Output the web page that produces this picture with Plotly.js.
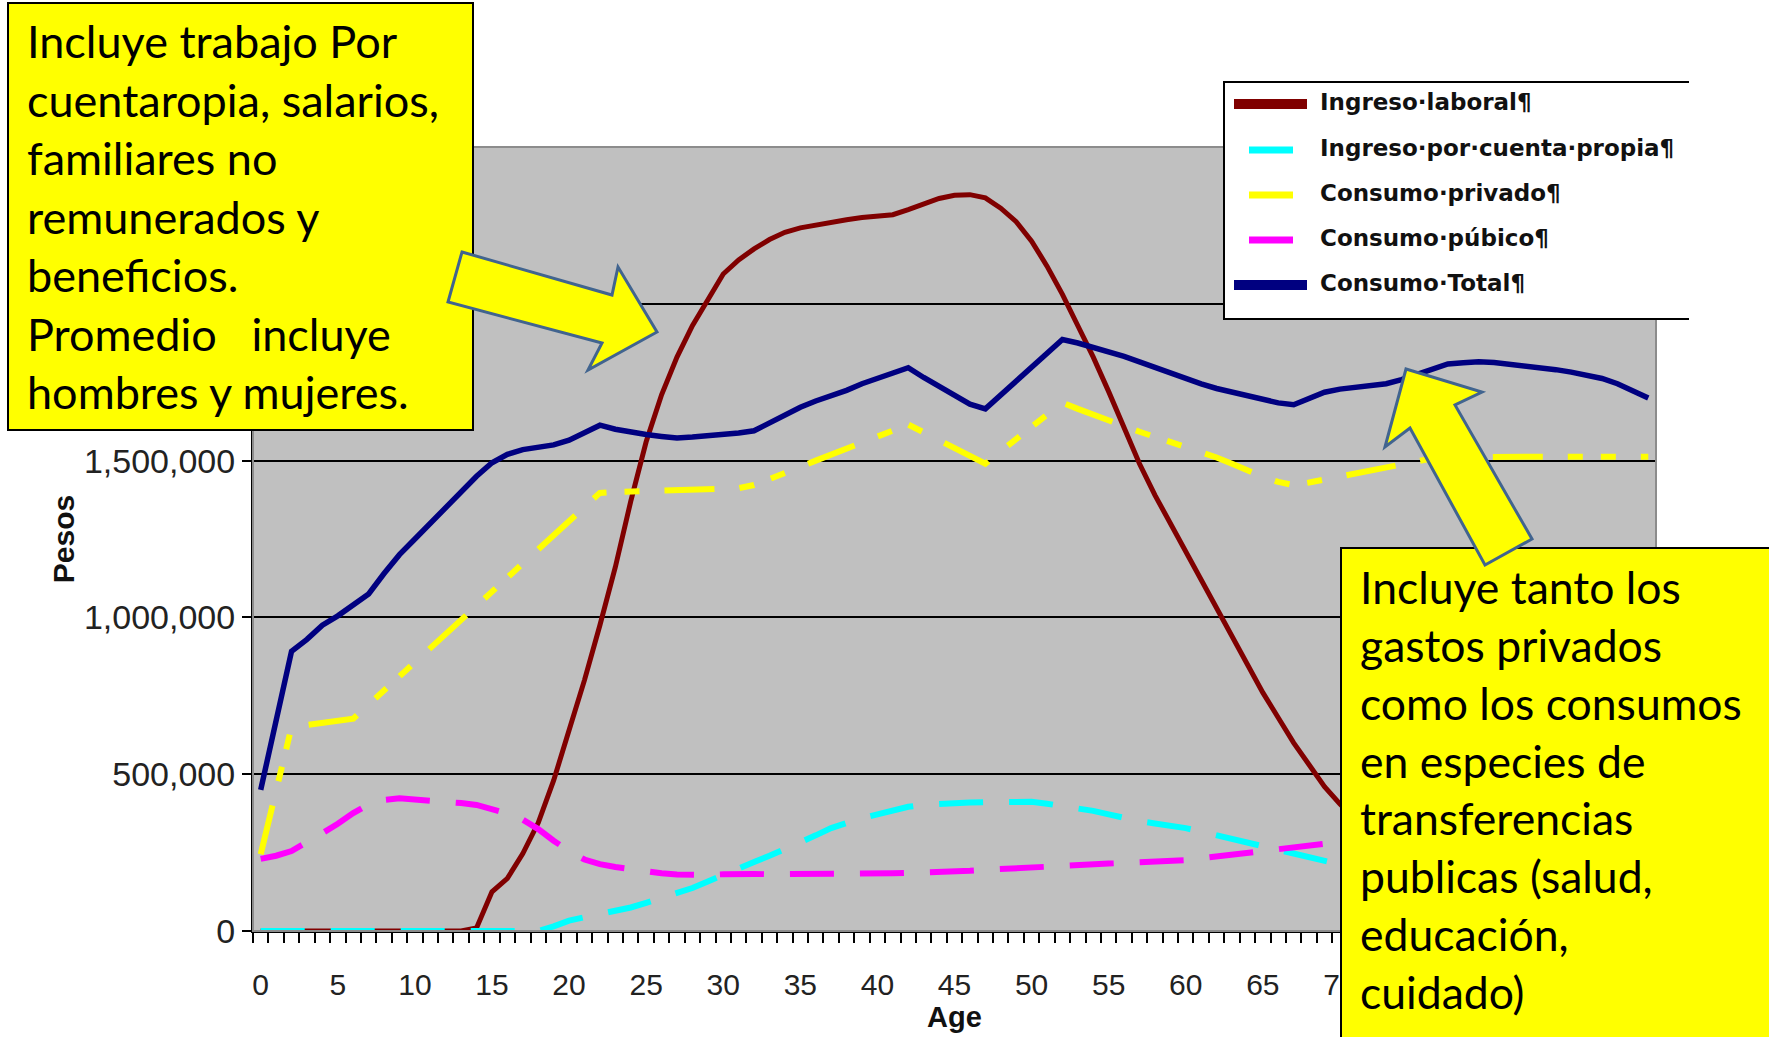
<!DOCTYPE html>
<html>
<head>
<meta charset="utf-8">
<script src="https://cdn.plot.ly/plotly-3.0.1.min.js"></script>
<style>
  html, body { margin: 0; padding: 0; background: #ffffff; }
  #chart { width: 1769px; height: 1037px; }
</style>
</head>
<body>
<div id="chart"></div>
<script>
// ---------------- DATA ----------------
const ages = [0,1,2,3,4,5,6,7,8,9,10,11,12,13,14,15,16,17,18,19,20,21,22,23,24,25,26,27,28,29,30,
  31,32,33,34,35,36,37,38,39,40,41,42,43,44,45,46,47,48,49,50,51,52,53,54,55,56,57,58,59,60,
  61,62,63,64,65,66,67,68,69,70,71,72,73,74,75,76,77,78,79,80,81,82,83,84,85,86,87,88,89,90];

const ingresoLaboral = [0,0,0,0,0,0,0,0,0,0,0,0,0,0,
  10000,125000,168000,247000,345000,480000,640000,800000,975000,1160000,1370000,
  1560000,1710000,1830000,1930000,2010000,2095000,2140000,2175000,2205000,2228000,
  2242000,2252000,2260000,2268000,2275000,2280000,2284000,2300000,2320000,2336000,
  2346000,2348000,2338000,2305000,2262000,2200000,2120000,2030000,1930000,1830000,
  1720000,1600000,1490000,1390000,1300000,1210000,1120000,1030000,940000,850000,
  760000,680000,600000,530000,460000,405000,355000,310000,270000,235000,
  205000,180000,158000,140000,124000,110000,98000,88000,79000,71000,
  64000,58000,53000,48000,44000,40000];

const ingresoCuentaPropia = [0,0,0,0,0,0,0,0,0,0,0,0,0,0,0,0,0,0,0,
  15000,33000,44000,53000,62000,75000,90000,105000,120000,137000,158000,
  180000,200000,220000,240000,260000,280000,305000,328000,345000,360000,
  372000,385000,396000,402000,406000,408000,410000,411000,412000,413000,
  412000,406000,399000,392000,383000,372000,360000,350000,343000,337000,
  328000,317000,305000,293000,282000,270000,258000,246000,234000,222000,
  210000,198000,186000,174000,163000,152000,142000,132000,122000,113000,
  104000,96000,89000,82000,76000,70000,65000,60000,56000,52000,48000];

const consumoPrivado = [245000,450000,650000,657000,664000,670000,677000,722000,767000,812000,
  857000,902000,947000,992000,1037000,1082000,1127000,1172000,1217000,1262000,
  1307000,1352000,1397000,1400000,1401000,1402000,1403000,1404000,1405000,1407000,
  1409000,1412000,1422000,1440000,1460000,1480000,1500000,1520000,1540000,1560000,
  1580000,1600000,1615000,1590000,1565000,1540000,1515000,1490000,1530000,1570000,
  1610000,1650000,1685000,1665000,1645000,1628000,1610000,1592000,1576000,1560000,
  1545000,1528000,1510000,1490000,1468000,1448000,1432000,1422000,1430000,1440000,
  1450000,1460000,1470000,1480000,1490000,1500000,1507000,1511000,1512000,1512000,
  1512000,1512000,1512000,1512000,1512000,1512000,1512000,1512000,1512000,1512000,1512000];

const consumoPublico = [230000,240000,255000,282000,312000,342000,376000,404000,418000,423000,
  420000,416000,412000,408000,402000,390000,375000,355000,325000,288000,
  255000,228000,213000,204000,196000,189000,184000,180000,178000,179000,
  181000,183000,182000,181000,181000,181000,180000,180000,181000,182000,
  183000,184000,185000,186000,187000,189000,192000,195000,198000,201000,
  204000,206000,208000,210000,213000,215000,217000,219000,221000,223000,
  226000,232000,238000,245000,251000,258000,262000,267000,272000,278000,
  283000,288000,293000,298000,303000,308000,313000,318000,323000,328000,
  333000,337000,341000,345000,349000,353000,356000,359000,362000,365000,368000];

const consumoTotal = [450000,670000,892000,930000,975000,1005000,1040000,1075000,1140000,1200000,
  1250000,1300000,1350000,1400000,1450000,1493000,1520000,1535000,1543000,1550000,
  1565000,1588000,1613000,1600000,1590000,1583000,1577000,1572000,1575000,1578000,
  1584000,1588000,1595000,1620000,1648000,1670000,1690000,1706000,1724000,1745000,
  1762000,1780000,1796000,1765000,1735000,1705000,1680000,1665000,1710000,1755000,
  1800000,1845000,1886000,1875000,1862000,1848000,1832000,1815000,1797000,1778000,
  1760000,1745000,1730000,1718000,1705000,1695000,1684000,1678000,1700000,1718000,
  1728000,1735000,1738000,1745000,1758000,1775000,1795000,1808000,1812000,1815000,
  1813000,1808000,1800000,1795000,1790000,1782000,1773000,1762000,1745000,1722000,1700000];

const seriesNames = ['Ingreso·laboral¶', 'Ingreso·por·cuenta·propia¶', 'Consumo·privado¶',
  'Consumo·púbico¶', 'Consumo·Total¶'];
const xTickVals = [0, 5, 10, 15, 20, 25, 30, 35, 40, 45, 50, 55, 60, 65, 70];
const yTickVals = [0, 500000, 1000000, 1500000, 2000000];
const yTickText = ['0', '500,000', '1,000,000', '1,500,000', ''];
const xTitle = 'Age';
const yTitle = 'Pesos';
const note1 = ['Incluye trabajo Por', 'cuentaropia, salarios,', 'familiares no', 'remunerados y',
  'beneficios.', 'Promedio\u00a0\u00a0 incluye', 'hombres y mujeres.'];
const note2 = ['Incluye tanto los', 'gastos privados', 'como los consumos', 'en especies de',
  'transferencias', 'publicas (salud,', 'educación,', 'cuidado)'];

// ---------------- LAYOUT HELPERS (pixel -> paper) ----------------
const PL = 253, PR = 1656, PT = 147, PB = 931;
const PW = PR - PL, PH = PB - PT;
const fx = p => (p - PL) / PW;
const fy = p => (PB - p) / PH;
function pathOf(pts, close) {
  let s = pts.map((p, i) => (i ? 'L' : 'M') + fx(p[0]).toFixed(5) + ',' + fy(p[1]).toFixed(5)).join(' ');
  return close ? s + ' Z' : s;
}

const colors = ['#800000', '#00FFFF', '#FFFF00', '#FF00FF', '#000080'];

const traces = [
  { x: ages, y: ingresoLaboral, name: seriesNames[0], mode: 'lines',
    line: { color: colors[0], width: 5 } },
  { x: ages, y: ingresoCuentaPropia, name: seriesNames[1], mode: 'lines',
    line: { color: colors[1], width: 6, dash: '44px,26px' } },
  { x: ages, y: consumoPrivado, name: seriesNames[2], mode: 'lines',
    line: { color: colors[2], width: 6, dash: '50px,25px,15px,18px,15px,25px' } },
  { x: ages, y: consumoPublico, name: seriesNames[3], mode: 'lines',
    line: { color: colors[3], width: 6, dash: '44px,26px' } },
  { x: ages, y: consumoTotal, name: seriesNames[4], mode: 'lines',
    line: { color: colors[4], width: 5.5 } }
];

const shapes = [];
// plot-area border (grey top/right)
shapes.push({ type: 'rect', xref: 'paper', yref: 'paper', x0: 0, x1: 1, y0: 0, y1: 1,
  line: { color: '#8c8c8c', width: 2 }, fillcolor: 'rgba(0,0,0,0)', layer: 'above' });
// legend box (right side open)
shapes.push({ type: 'path', xref: 'paper', yref: 'paper', layer: 'above',
  path: pathOf([[1689, 82], [1224, 82], [1224, 319], [1689, 319]], false),
  fillcolor: '#ffffff', line: { color: '#000000', width: 2 } });
// legend samples
const legendRows = [104, 150, 195, 240, 285];
const sampleSpans = [[1234, 1307, 10], [1249, 1293, 7], [1249, 1293, 7], [1249, 1293, 7], [1234, 1307, 10]];
legendRows.forEach((yy, i) => {
  shapes.push({ type: 'line', xref: 'paper', yref: 'paper', layer: 'above',
    x0: fx(sampleSpans[i][0]), x1: fx(sampleSpans[i][1]), y0: fy(yy), y1: fy(yy),
    line: { color: colors[i], width: sampleSpans[i][2] } });
});
// yellow note boxes
shapes.push({ type: 'rect', xref: 'paper', yref: 'paper', layer: 'above',
  x0: fx(8), x1: fx(473), y0: fy(3), y1: fy(430),
  fillcolor: '#FFFF00', line: { color: '#000000', width: 2 } });
shapes.push({ type: 'rect', xref: 'paper', yref: 'paper', layer: 'above',
  x0: fx(1341), x1: fx(1790), y0: fy(548), y1: fy(1060),
  fillcolor: '#FFFF00', line: { color: '#000000', width: 2 } });
// block arrows
shapes.push({ type: 'path', xref: 'paper', yref: 'paper', layer: 'above',
  path: pathOf([[462, 252], [612, 295], [618, 267], [657, 332], [588, 370], [602, 343], [448, 302]], true),
  fillcolor: '#FFFF00', line: { color: '#41648F', width: 3 } });
shapes.push({ type: 'path', xref: 'paper', yref: 'paper', layer: 'above',
  path: pathOf([[1406, 369], [1482, 392], [1455, 405], [1532, 539], [1485, 565], [1410, 428], [1385, 447]], true),
  fillcolor: '#FFFF00', line: { color: '#41648F', width: 3 } });

const annotations = [];
annotations.push({ xref: 'paper', yref: 'paper', x: fx(25), y: fy(12), xanchor: 'left', yanchor: 'top',
  align: 'left', showarrow: false, text: note1.join('<br>'),
  font: { family: 'Lato, Carlito, sans-serif', size: 45, color: '#000000' } });
annotations.push({ xref: 'paper', yref: 'paper', x: fx(1358), y: fy(558), xanchor: 'left', yanchor: 'top',
  align: 'left', showarrow: false, text: note2.join('<br>'),
  font: { family: 'Lato, Carlito, sans-serif', size: 44.5, color: '#000000' } });
legendRows.forEach((yy, i) => {
  annotations.push({ xref: 'paper', yref: 'paper', x: fx(1318), y: fy(yy - 2), xanchor: 'left', yanchor: 'middle',
    showarrow: false, text: seriesNames[i],
    font: { family: 'DejaVu Sans', size: 23, color: '#111111', weight: 'bold' } });
});

const layout = {
  width: 1769, height: 1037,
  margin: { l: PL, r: 1769 - PR, t: PT, b: 1037 - PB, pad: 0 },
  paper_bgcolor: '#ffffff', plot_bgcolor: '#C0C0C0',
  showlegend: false,
  font: { family: 'Liberation Sans, Arial, sans-serif', color: '#222222' },
  xaxis: {
    range: [-0.5, 90.5], tickvals: xTickVals, showgrid: false, zeroline: false,
    ticks: 'outside', ticklen: 0, ticklabelstandoff: 26,
    minor: { tick0: 0.5, dtick: 1, ticks: 'outside', ticklen: 10, tickcolor: '#000000', tickwidth: 2, showgrid: false },
    showline: true, linecolor: '#000000', linewidth: 2,
    tickfont: { size: 30, color: '#222222' },
    title: { text: '<b>' + xTitle + '</b>', font: { size: 29, color: '#111111' }, standoff: 6 }
  },
  yaxis: {
    range: [0, 2500000], tickvals: yTickVals, ticktext: yTickText,
    showgrid: true, gridcolor: '#000000', gridwidth: 2, zeroline: false,
    ticks: 'outside', ticklen: 9, tickcolor: '#000000', tickwidth: 2,
    showline: true, linecolor: '#000000', linewidth: 2,
    tickfont: { size: 34, color: '#222222' },
    title: { text: '<b>' + yTitle + '</b>', font: { size: 30, color: '#111111' }, standoff: 0 }
  },
  shapes: shapes,
  annotations: annotations
};

Plotly.newPlot('chart', traces, layout, { displayModeBar: false, staticPlot: true });
</script>
</body>
</html>
